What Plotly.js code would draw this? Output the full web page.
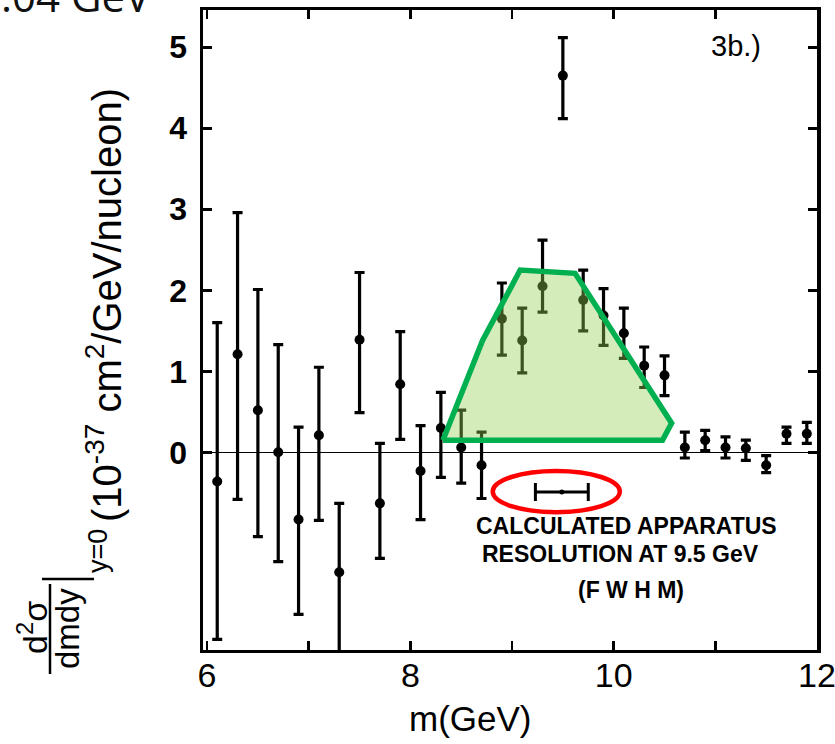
<!DOCTYPE html>
<html><head><meta charset="utf-8">
<script src="https://cdn.plot.ly/plotly-3.0.1.min.js"></script>
<style>html,body{margin:0;padding:0;background:#fff}</style>
</head><body><div id="chart" style="width:835px;height:744px"></div>
<script>
// ---- data ----
const massGeV = [6.1,6.3,6.5,6.7,6.9,7.1,7.3,7.5,7.7,7.9,8.1,8.3,8.5,8.7,8.9,9.1,9.3,9.5,9.7,9.9,10.1,10.3,10.5,10.7,10.9,11.1,11.3,11.5,11.7,11.9];
const crossSection = [-0.36,1.21,0.52,0.0,-0.83,0.21,-1.48,1.39,-0.63,0.84,-0.23,0.30,0.06,-0.16,1.65,1.38,2.05,4.65,1.88,1.69,1.47,1.07,0.95,0.06,0.15,0.06,0.05,-0.16,0.23,0.23];
const errUp   = [1.96,1.75,1.49,1.33,1.14,0.84,0.85,0.83,0.74,0.65,0.56,0.44,0.46,0.41,0.44,0.40,0.57,0.47,0.37,0.33,0.31,0.23,0.24,0.19,0.12,0.13,0.10,0.12,0.08,0.14];
const errDown = [1.95,1.79,1.56,1.35,1.17,1.05,1.12,0.90,0.68,0.68,0.60,0.61,0.44,0.41,0.45,0.40,0.32,0.53,0.38,0.37,0.31,0.27,0.25,0.13,0.13,0.13,0.15,0.09,0.12,0.12];
// resolution bar (FWHM at 9.5 GeV)
const resCenter = [9.49];
const resLevel = [-0.49];
const resHalfWidth = [0.26];
// highlighted peak region (green overlay)
const peakX = [8.32,8.71,9.08,9.62,10.57,10.48,8.32];
const peakY = [0.15,1.38,2.25,2.21,0.36,0.15,0.15];
const xTickVals = [6,7,8,9,10,11,12];
const xTickText = ['6','','8','','10','','12'];
const yTickVals = [0,1,2,3,4,5];
const yTickText = ['0','1','2','3','4','5'];

// pixel -> paper helpers for the plot frame
const L=203, R=817, T=10, B=650;
const px = v => (v-L)/(R-L);
const py = v => (B-v)/(B-T);

const traces = [
  {x: massGeV, y: crossSection, type:'scatter', mode:'markers',
   marker:{color:'#000', size:10},
   error_y:{type:'data', symmetric:false, array:errUp, arrayminus:errDown, color:'#000', thickness:3.2, width:5},
   showlegend:false, cliponaxis:true},
  {x: resCenter, y: resLevel, type:'scatter', mode:'markers',
   marker:{color:'#000', size:5},
   error_x:{type:'data', array:resHalfWidth, color:'#000', thickness:3, width:9},
   showlegend:false},
  {x: peakX, y: peakY, type:'scatter', mode:'lines', fill:'toself',
   fillcolor:'rgba(146,208,80,0.40)', line:{color:'#00b050', width:5.5},
   showlegend:false, hoverinfo:'skip'}
];

const tf = {family:'Liberation Sans, Arial, sans-serif', color:'#000'};
const labFont = {family:'Liberation Sans, Arial', size:23, weight:'bold', color:'#000'};
const layout = {
  width:835, height:744,
  margin:{l:L, r:835-R, t:T, b:744-B, pad:0},
  paper_bgcolor:'#fff', plot_bgcolor:'#fff',
  showlegend:false,
  xaxis:{range:[5.96,12.0], tickvals:xTickVals, ticktext:xTickText,
    ticks:'inside', ticklen:9, tickwidth:2.5, tickcolor:'#000',
    showline:true, linewidth:3, linecolor:'#000', mirror:'ticks',
    showgrid:false, zeroline:false, ticklabeloverflow:'allow',
    tickfont:Object.assign({size:34}, tf), ticklabelstandoff:-7},
  yaxis:{range:[-2.44,5.46], tickvals:yTickVals, ticktext:yTickText,
    ticks:'inside', ticklen:9, tickwidth:2.5, tickcolor:'#000',
    showline:true, linewidth:3.5, linecolor:'#000', mirror:'ticks',
    showgrid:false, zeroline:true, zerolinecolor:'#000', zerolinewidth:1.5,
    tickfont:Object.assign({size:32, weight:'bold'}, tf), ticklabelstandoff:6},
  shapes:[
    {type:'circle', xref:'x', yref:'y', x0:8.81, x1:10.06, y0:-0.74, y1:-0.23,
     line:{color:'#ff0000', width:4.5}},
    // fraction bar of d2sigma/dmdy
    {type:'line', xref:'paper', yref:'paper', x0:px(50), x1:px(50), y0:py(584), y1:py(674), line:{color:'#000', width:2.5}},
    // evaluation bar |
    {type:'line', xref:'paper', yref:'paper', x0:px(42), x1:px(94), y0:py(579), y1:py(579), line:{color:'#000', width:2.5}}
  ],
  annotations:[
    {text:'CALCULATED APPARATUS', xref:'x', yref:'y', x:10.13, y:-0.91, showarrow:false, font:labFont},
    {text:'RESOLUTION AT 9.5 GeV', xref:'x', yref:'y', x:10.07, y:-1.25, showarrow:false, font:labFont},
    {text:'(F W H M)', xref:'x', yref:'y', x:10.17, y:-1.70, showarrow:false, font:labFont},
    {text:'3b.)', xref:'x', yref:'y', x:11.2, y:5.02, showarrow:false,
     font:{family:'Liberation Sans, Arial', size:29, color:'#000'}},
    {text:'m(GeV)', xref:'paper', yref:'paper', x:px(470), y:py(718), xanchor:'center', yanchor:'middle', showarrow:false,
     font:{family:'Liberation Sans, Arial', size:35, color:'#000'}},
    {text:'9.04 GeV', xref:'paper', yref:'paper', x:px(153), y:py(26), xanchor:'right', yanchor:'bottom', showarrow:false,
     font:{family:'Open Sans, Lato, sans-serif', size:42, color:'#111'}},
    {text:'(10<sup>-37</sup> cm<sup>2</sup>/GeV/nucleon)', xref:'paper', yref:'paper', x:px(104), y:py(305), textangle:-90,
     xanchor:'center', yanchor:'middle', showarrow:false, font:{family:'Liberation Sans, Arial', size:40, color:'#000'}},
    {text:'y=0', xref:'paper', yref:'paper', x:px(98), y:py(551), textangle:-90,
     xanchor:'center', yanchor:'middle', showarrow:false, font:{family:'Liberation Sans, Arial', size:27, color:'#000'}},
    {text:'d<sup>2</sup>σ', xref:'paper', yref:'paper', x:px(32), y:py(628), textangle:-90,
     xanchor:'center', yanchor:'middle', showarrow:false, font:{family:'Liberation Sans, Arial', size:34, color:'#000'}},
    {text:'dmdy', xref:'paper', yref:'paper', x:px(67), y:py(629), textangle:-90,
     xanchor:'center', yanchor:'middle', showarrow:false, font:{family:'Liberation Sans, Arial', size:33, color:'#000'}}
  ]
};
Plotly.newPlot('chart', traces, layout, {displayModeBar:false, staticPlot:true});
</script></body></html>
